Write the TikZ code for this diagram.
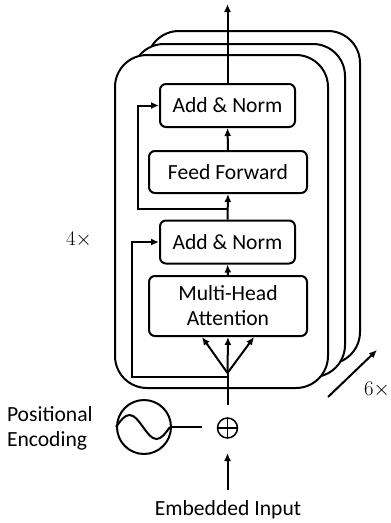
\documentclass[tikz,border=0pt]{standalone}
\usepackage{fontspec}
\setmainfont{Carlito}
\usetikzlibrary{arrows.meta}
\begin{document}
\begin{tikzpicture}[x=1pt,y=-1pt, line width=2pt,
  blk/.style={draw, rounded corners=6pt, fill=white, minimum height=43pt, inner sep=0pt, align=center, font=\fontsize{21.6}{25}\selectfont},
  arr/.style={-{Latex[length=8pt,width=7pt]}},
  lbl/.style={font=\fontsize{21.6}{25}\selectfont, inner sep=0pt},
  stackbox/.style={draw, fill=white, rounded corners=32pt}]
\useasboundingbox (0,0) rectangle (391,523);
% stacked layers
\draw[stackbox] (147,31) rectangle (360,364);
\draw[stackbox] (132,44) rectangle (345,377);
\draw[stackbox] (115,55) rectangle (328,388);
% blocks
\node[blk, minimum width=135pt] (an2) at (227.5,105.5) {Add \& Norm};
\node[blk, minimum width=158pt, minimum height=42pt] (ff) at (228,172) {Feed Forward};
\node[blk, minimum width=135pt] (an1) at (227.5,242) {Add \& Norm};
\node[blk, minimum width=158pt, minimum height=60pt] (mha) at (228,306) {Multi-Head\\Attention};
% positional encoding
\node[circle, draw, minimum size=54pt, inner sep=0pt] (pe) at (144,427) {};
\draw (pe.west) sin ++(13.5,-12) cos ++(13.5,12) sin ++(13.5,12) cos ++(13.5,-12);
\node[circle, draw, line width=1.5pt, minimum size=20pt, inner sep=0pt,
  path picture={\draw[line width=1.5pt] (path picture bounding box.north) -- (path picture bounding box.south)
  (path picture bounding box.west) -- (path picture bounding box.east);}] (plus) at (227.5,428) {};
\node[lbl, align=left, anchor=west] (petxt) at (6,428) {Positional\\Encoding};
\node[lbl] (emb) at (228,510) {Embedded Input};
\node[font=\fontsize{20}{24}\selectfont, inner sep=0pt] (four) at (79,240) {$4\times$};
\node[font=\fontsize{20}{24}\selectfont, inner sep=0pt] (six) at (377,390) {$6\times$};
% coordinates
\coordinate (pel) at (202,427);
\coordinate (embtop) at (227.5,490);
\coordinate (plustop) at (227.5,453);
\coordinate (mstart) at (227.5,405);
\coordinate (br) at (227.5,373);
\coordinate (r1) at (227.5,377);
\coordinate (r1c) at (132,377);
\coordinate (r2) at (227.5,209);
\coordinate (r2c) at (138,209);
\coordinate (ml) at (202,337);
\coordinate (mr) at (254,337);
\coordinate (out) at (227.5,4);
\coordinate (sixa) at (328,397);
\coordinate (sixb) at (377,350);
% connectors
\draw (pe.east) -- (pel);
\draw[arr] (embtop) -- (plustop);
\draw (mstart) -- (r1) -- (br);
\draw[arr] (br) -- (mha.south);
\draw[arr] (br) -- (ml);
\draw[arr] (br) -- (mr);
\draw[arr] (r1) -- (r1c) |- (an1.west);
\draw[arr] (mha.north) -- (an1.south);
\draw[arr] (an1.north) -- (ff.south);
\draw[arr] (r2) -- (r2c) |- (an2.west);
\draw[arr] (ff.north) -- (an2.south);
\draw[arr] (an2.north) -- (out);
\draw[arr] (sixa) -- (sixb);
\end{tikzpicture}
\end{document}
